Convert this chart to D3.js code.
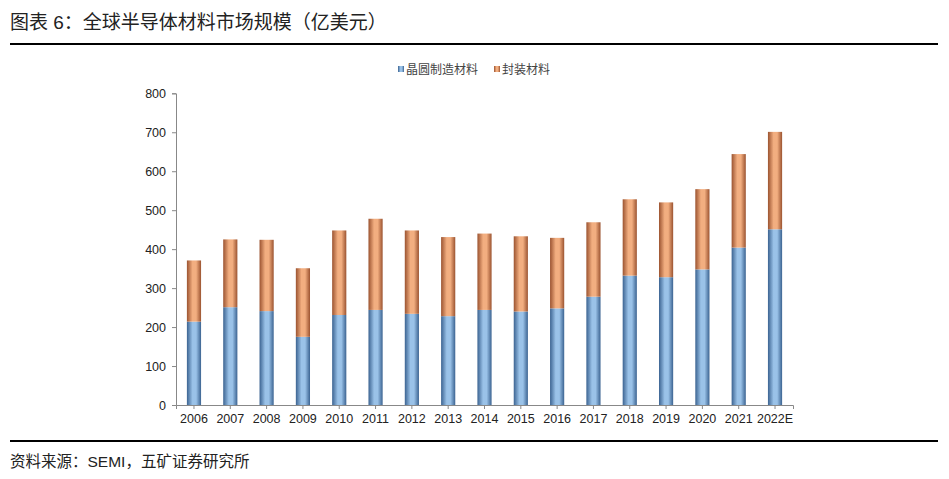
<!DOCTYPE html>
<html lang="zh">
<head>
<meta charset="UTF-8">
<title>全球半导体材料市场规模</title>
<script src="https://d3js.org/d3.v7.min.js"></script>
<style>
  body { margin: 0; background: #fff; }
  text { font-family: "Liberation Sans", Arial, "Noto Sans CJK SC", sans-serif; }
  .tick text { font-family: "Liberation Sans", Arial, sans-serif; }
</style>
</head>
<body>
<svg id="chart" width="949" height="479"></svg>
<script>
// data
const years = ["2006","2007","2008","2009","2010","2011","2012","2013","2014","2015","2016","2017","2018","2019","2020","2021","2022E"];
const wafer = [214, 251, 241, 175, 231, 244, 234, 228, 244, 240, 248, 278, 332, 328, 348, 404, 451];
const packaging = [157, 174, 183, 176, 217, 234, 214, 203, 196, 193, 181, 191, 196, 192, 206, 240, 250];
const seriesNames = ["晶圆制造材料", "封装材料"];
const yTicks = [0, 100, 200, 300, 400, 500, 600, 700, 800];

const svg = d3.select("#chart");

// gradients for the shaded bars
const defs = svg.append("defs");
function grad(id, dark, light) {
  const g = defs.append("linearGradient").attr("id", id)
    .attr("x1", "0%").attr("x2", "100%").attr("y1", "0%").attr("y2", "0%");
  g.append("stop").attr("offset", "0%").attr("stop-color", dark);
  g.append("stop").attr("offset", "40%").attr("stop-color", light);
  g.append("stop").attr("offset", "65%").attr("stop-color", light);
  g.append("stop").attr("offset", "100%").attr("stop-color", dark);
}
grad("gBlue", "#3b6391", "#9ac2e8");
grad("gOrange", "#9b5330", "#f2ae80");
const fills = ["url(#gBlue)", "url(#gOrange)"];

// title + rules
svg.append("text").attr("x", 10).attr("y", 29)
  .attr("font-size", 19).attr("fill", "#222")
  .text("图表 6：全球半导体材料市场规模（亿美元）");
svg.append("line").attr("x1", 10).attr("x2", 938).attr("y1", 44).attr("y2", 44)
  .attr("stroke", "#000").attr("stroke-width", 2);
svg.append("line").attr("x1", 10).attr("x2", 938).attr("y1", 441).attr("y2", 441)
  .attr("stroke", "#000").attr("stroke-width", 2);
svg.append("text").attr("x", 10).attr("y", 467)
  .attr("font-size", 15.5).attr("fill", "#222")
  .text("资料来源：SEMI，五矿证券研究所");

// scales
const x = d3.scaleBand().domain(years).range([176, 793]).paddingInner(0.61).paddingOuter(0.3);
const y = d3.scaleLinear().domain([0, 800]).range([405, 93.3]);

// stacked bars
const rows = years.map((yr, i) => ({ year: yr, wafer: wafer[i], packaging: packaging[i] }));
const stacked = d3.stack().keys(["wafer", "packaging"])(rows);

svg.append("g").selectAll("g")
  .data(stacked).join("g")
  .attr("fill", (d, i) => fills[i])
  .selectAll("rect")
  .data(d => d).join("rect")
  .attr("x", d => x(d.data.year))
  .attr("width", x.bandwidth())
  .attr("y", d => y(d[1]))
  .attr("height", d => y(d[0]) - y(d[1]));

// axes
const yAxis = svg.append("g").attr("transform", "translate(176,0)")
  .call(d3.axisLeft(y).tickValues(yTicks).tickSize(4).tickPadding(6));
const xAxis = svg.append("g").attr("transform", "translate(0,405)")
  .call(d3.axisBottom(x).tickSize(4).tickPadding(5));
[yAxis, xAxis].forEach(a => {
  a.attr("font-family", null);
  a.select(".domain").attr("stroke", "#888");
  a.selectAll(".tick line").attr("stroke", "#888");
  a.selectAll(".tick text").attr("font-size", 12.5).attr("fill", "#222");
});

// legend
const legend = svg.append("g").attr("transform", "translate(398,70)");
const lx = [0, 96];
seriesNames.forEach((n, i) => {
  legend.append("rect").attr("x", lx[i]).attr("y", -4).attr("width", 6).attr("height", 6)
    .attr("fill", fills[i]);
  legend.append("text").attr("x", lx[i] + 8).attr("y", 0)
    .attr("dy", "0.35em").attr("font-size", 12).attr("fill", "#444").text(n);
});
</script>
</body>
</html>
